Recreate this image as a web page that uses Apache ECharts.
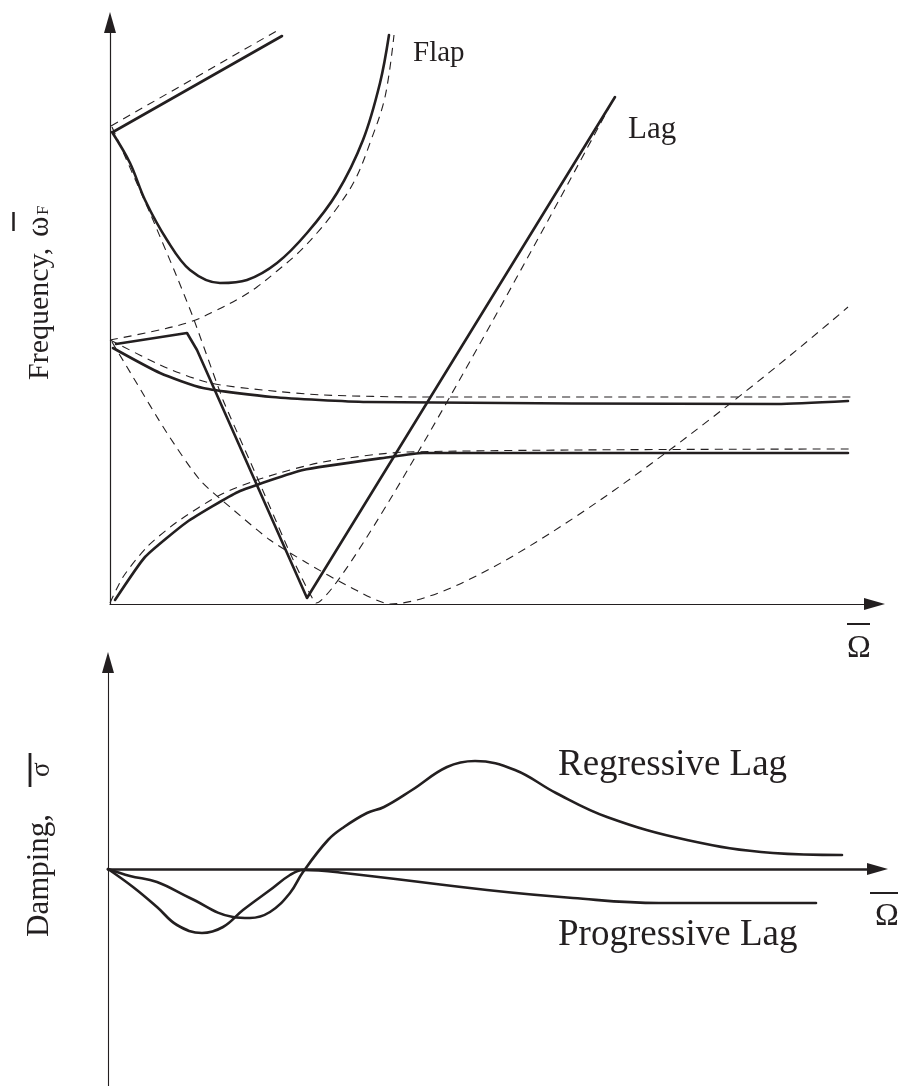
<!DOCTYPE html>
<html><head><meta charset="utf-8">
<script src="https://cdn.jsdelivr.net/npm/echarts@6/dist/echarts.min.js"></script>
<style>html,body{margin:0;padding:0;background:#fff}#c{width:898px;height:1086px}</style>
</head><body><div id="c"></div><script>
// ---------- Top panel: frequency vs rotor speed (arbitrary units) ----------
const upperBranchSolid  = [[0.03,4.72],[1.72,5.68]];
const upperBranchDashed = [[0.01,4.78],[1.70,5.75]];
const flapSolid  = [[0.02,4.72],[0.20,4.41],[0.35,4.04],[0.57,3.64],[0.80,3.34],[1.10,3.21],[1.37,3.24],[1.67,3.41],[1.97,3.71],[2.27,4.11],[2.53,4.64],[2.70,5.21],[2.79,5.69]];
const flapDashed = [[0.00,2.64],[0.40,2.72],[0.80,2.82],[1.05,2.93],[1.30,3.06],[1.47,3.17],[1.67,3.33],[1.87,3.50],[2.07,3.71],[2.27,3.96],[2.45,4.24],[2.60,4.61],[2.75,5.07],[2.84,5.69]];
const lagSolid   = [[0.06,2.60],[0.77,2.71],[0.87,2.54],[1.97,0.06],[5.05,5.07]];
const lagDashed  = [[0.02,4.77],[0.40,3.91],[0.67,3.27],[0.83,2.87],[1.13,2.04],[1.47,1.27],[1.80,0.51],[2.06,0.01],[5.03,5.04]];
const lowerVDashed = [[0.02,2.62],[0.23,2.27],[0.57,1.71],[0.90,1.24],[1.20,0.97],[1.60,0.64],[1.97,0.41],[2.40,0.17],[2.80,0.00],[7.38,2.97]];
const midSolid   = [[0.03,2.56],[0.50,2.31],[0.93,2.16],[1.62,2.07],[2.57,2.02],[6.67,2.00],[7.38,2.03]];
const midDashed  = [[0.00,2.64],[0.57,2.36],[1.00,2.21],[1.53,2.14],[2.13,2.09],[3.13,2.07],[7.42,2.07]];
const lowSolid   = [[0.05,0.04],[0.35,0.47],[0.77,0.82],[1.28,1.12],[1.93,1.34],[2.80,1.47],[3.13,1.51],[7.38,1.51]];
const lowDashed  = [[0.00,0.01],[0.13,0.27],[0.37,0.57],[0.67,0.82],[1.10,1.09],[1.53,1.26],[2.13,1.42],[2.97,1.52],[7.42,1.55]];

// ---------- Bottom panel: damping vs rotor speed ----------
const regressiveLag  = [[0,0],[0.22,-0.07],[0.49,-0.13],[0.82,-0.29],[1.25,-0.48],[1.42,-0.49],[1.62,-0.43],[1.82,-0.24],[1.95,-0.03],[2.20,0.29],[2.36,0.42],[2.59,0.56],[2.76,0.62],[3.04,0.79],[3.39,1.02],[3.67,1.08],[4.07,0.99],[4.48,0.76],[4.99,0.52],[5.79,0.29],[6.65,0.16],[7.34,0.14]];
const progressiveLag = [[0,0],[0.25,-0.18],[0.49,-0.38],[0.69,-0.56],[0.94,-0.64],[1.15,-0.58],[1.35,-0.41],[1.62,-0.21],[1.82,-0.06],[1.95,-0.01],[2.36,-0.04],[3.79,-0.21],[4.65,-0.29],[5.51,-0.34],[7.08,-0.34]];

const INK = '#231f20';
const FONT = '"Liberation Serif", "Times New Roman", serif';

function solid(data, g, smooth) {
  return {type:'line', data, xAxisIndex:g, yAxisIndex:g, showSymbol:false, symbol:'none', smooth: smooth || false,
    clip:false, silent:true, lineStyle:{color:INK, width:2.6, cap:'round', join:'round'}};
}
function dashed(data, g, smooth) {
  return {type:'line', data, xAxisIndex:g, yAxisIndex:g, showSymbol:false, symbol:'none', smooth: smooth || false,
    clip:false, silent:true, lineStyle:{color:INK, width:1.1, type:[8,6]}};
}
function axis(extra, lineW) {
  return Object.assign({type:'value', splitLine:{show:false}, axisTick:{show:false}, axisLabel:{show:false},
    axisLine:{show:true, onZero:true, symbol:['none','triangle'], symbolSize:[12,21], lineStyle:{color:INK, width:lineW}}}, extra);
}
function txt(x, y, s, size, extra) {
  return Object.assign({type:'text', x, y, silent:true, style:{text:s, fontSize:size, fontFamily:FONT, fill:INK, verticalAlign:'middle', align:'left'}}, extra||{});
}
function bar(x1, y1, x2, y2, w) {
  return {type:'line', silent:true, shape:{x1,y1,x2,y2}, style:{stroke:INK, lineWidth:w||2}};
}

const chart = echarts.init(document.getElementById('c'), null, {renderer:'canvas'});
chart.setOption({
  animation:false,
  backgroundColor:'#fff',
  grid:[
    {left:110, right:23.5, top:22.5, bottom:482},
    {left:108, right:20.5, top:662.5, bottom:0}
  ],
  xAxis:[ axis({gridIndex:0, min:0, max:7.645}, 1.2), axis({gridIndex:1, min:0, max:7.695}, 2.6) ],
  yAxis:[ axis({gridIndex:0, min:0, max:5.815}, 1.2), axis({gridIndex:1, min:-2.17, max:2.065}, 1.1) ],
  series:[
    solid(upperBranchSolid,0), dashed(upperBranchDashed,0),
    solid(flapSolid,0,0.35), dashed(flapDashed,0,0.35),
    solid(lagSolid,0), dashed(lagDashed,0,0.1),
    dashed(lowerVDashed,0,0.25),
    solid(midSolid,0,0.2), dashed(midDashed,0,0.25),
    solid(lowSolid,0,0.15), dashed(lowDashed,0,0.25),
    solid(regressiveLag,1,0.4), solid(progressiveLag,1,0.4)
  ],
  graphic:[
    txt(413, 53, 'Flap', 29),
    txt(628, 130, 'Lag', 31),
    txt(558, 765, 'Regressive Lag', 37),
    txt(558, 935, 'Progressive Lag', 37),
    // x-axis labels (Ω with overbar)
    txt(847, 649, 'Ω', 32), bar(847, 624, 870, 624, 2),
    txt(875, 917, 'Ω', 32), bar(870, 893, 898, 893, 2),
    // y-axis label, top panel
    {type:'group', x:50, y:380, rotation:Math.PI/2, children:[
      txt(0, -10, 'Frequency,', 30),
      txt(143, -10, 'ω', 31),
      txt(165, -6, 'F', 17)
    ]},
    bar(13.5, 212, 13.5, 231, 2.5),
    // y-axis label, bottom panel
    {type:'group', x:50, y:937, rotation:Math.PI/2, children:[
      txt(0, -10, 'Damping,', 31),
      txt(160, -8, 'σ', 27)
    ]},
    bar(30, 753, 30, 787, 2.8)
  ]
});
</script></body></html>
